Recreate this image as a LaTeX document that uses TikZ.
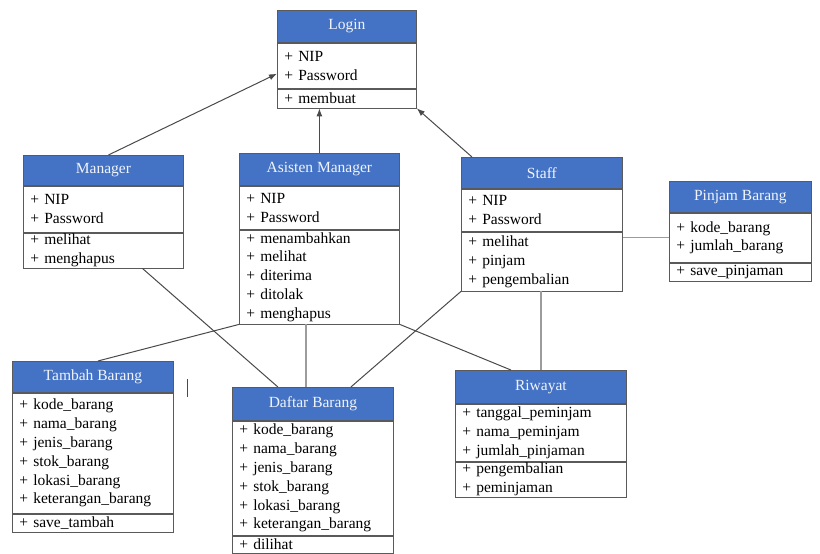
\documentclass[tikz,border=0pt]{standalone}
\usepackage{fontspec}
\setmainfont{Liberation Serif}
\usetikzlibrary{arrows.meta, positioning}
\definecolor{hdrblue}{HTML}{4472C4}
\definecolor{boxline}{HTML}{5A5A5A}
\definecolor{darkline}{HTML}{4A4A4A}
\definecolor{lightline}{HTML}{9C9C9C}
\tikzset{
    hdr/.style 2 args={draw=boxline, fill=hdrblue, text=white!92!hdrblue, anchor=north west, inner sep=0pt, minimum width=#1, minimum height=#2},
    sec/.style 2 args={draw=boxline, fill=white, align=left, inner xsep=7pt, inner ysep=0pt, text width=#1-14pt, minimum height=#2},
    assoc/.style={draw=darkline, line width=1pt},
    assocl/.style={draw=lightline, line width=1.2pt},
    gen/.style={draw=darkline, line width=1pt, -{Latex[length=8pt, width=6pt]}}
}

\begin{document}
\begin{tikzpicture}[x=1pt, y=-1pt, font=\fontsize{15.5}{18.8}\selectfont, line width=0.8pt]
    \fill[white] (0,0) rectangle (820,554);
    \useasboundingbox (0,0) rectangle (820,554);

    % Kelas atas
    \node[hdr={139}{32}] (login) at (277,10) {Login};
    \node[sec={139}{45}, below=0pt of login] (login-a) {+ NIP\\+ Password};
    \node[sec={139}{19}, below=0pt of login-a] (login-m) {+ membuat};

    % Kelas pengguna
    \node[hdr={160}{30}] (mgr) at (23,155) {Manager};
    \node[sec={160}{46}, below=0pt of mgr] (mgr-a) {+ NIP\\+ Password};
    \node[sec={160}{35}, below=0pt of mgr-a] (mgr-m) {+ melihat\\+ menghapus};

    \node[hdr={160}{32}] (asm) at (239,153) {Asisten Manager};
    \node[sec={160}{43}, below=0pt of asm] (asm-a) {+ NIP\\+ Password};
    \node[sec={160}{94}, below=0pt of asm-a] (asm-m) {+ menambahkan\\+ melihat\\+ diterima\\+ ditolak\\+ menghapus};

    \node[hdr={161}{31}] (staff) at (461,157) {Staff};
    \node[sec={161}{42}, below=0pt of staff] (staff-a) {+ NIP\\+ Password};
    \node[sec={161}{59}, below=0pt of staff-a] (staff-m) {+ melihat\\+ pinjam\\+ pengembalian};

    \node[hdr={142}{31}] (pjm) at (669,181) {Pinjam Barang};
    \node[sec={142}{49}, below=0pt of pjm] (pjm-a) {+ kode\_barang\\+ jumlah\_barang};
    \node[sec={142}{18}, below=0pt of pjm-a] (pjm-m) {+ save\_pinjaman};

    % Kelas barang
    \node[hdr={161}{31}] (tmb) at (12,361) {Tambah Barang};
    \node[sec={161}{120}, below=0pt of tmb] (tmb-a) {+ kode\_barang\\+ nama\_barang\\+ jenis\_barang\\+ stok\_barang\\+ lokasi\_barang\\+ keterangan\_barang};
    \node[sec={161}{18}, below=0pt of tmb-a] (tmb-m) {+ save\_tambah};

    \node[hdr={161}{33}] (dft) at (232,387) {Daftar Barang};
    \node[sec={161}{114}, below=0pt of dft] (dft-a) {+ kode\_barang\\+ nama\_barang\\+ jenis\_barang\\+ stok\_barang\\+ lokasi\_barang\\+ keterangan\_barang};
    \node[sec={161}{17}, below=0pt of dft-a] (dft-m) {+ dilihat};

    \node[hdr={171}{33}] (riw) at (455,370) {Riwayat};
    \node[sec={171}{57}, below=0pt of riw] (riw-a) {+ tanggal\_peminjam\\+ nama\_peminjam\\+ jumlah\_pinjaman};
    \node[sec={171}{35}, below=0pt of riw-a] (riw-m) {+ pengembalian\\+ peminjaman};

    % Generalisasi ke Login
    \draw[gen] ([xshift=5pt]mgr.north) -- ([yshift=-8pt]login-a.west);
    \draw[gen] (asm.north) -- (asm.north |- login-m.south);
    \draw[gen] ([xshift=11pt]staff.north west) -- (login-m.south east);

    % Asosiasi
    \draw[assocl] (staff-m.east |- pjm-a.west) -- (pjm-a.west);
    \draw[assoc] ([xshift=39pt]mgr-m.south) -- ([xshift=-35pt]dft.north);
    \draw[assoc] (asm-m.south west) -- ([xshift=5pt]tmb.north);
    \draw[assocl] ([xshift=-7pt]dft.north |- asm-m.south) -- ([xshift=-7pt]dft.north);
    \draw[assoc] (asm-m.south east) -- ([xshift=-30pt]riw.north);
    \draw[assoc] (staff-m.south west) -- ([xshift=38pt]dft.north);
    \draw[assocl] (riw.north |- staff-m.south) -- (riw.north);

    % tanda kursor
    \draw[darkline, line width=1pt] (187,379) -- (187,397);
\end{tikzpicture}
\end{document}
